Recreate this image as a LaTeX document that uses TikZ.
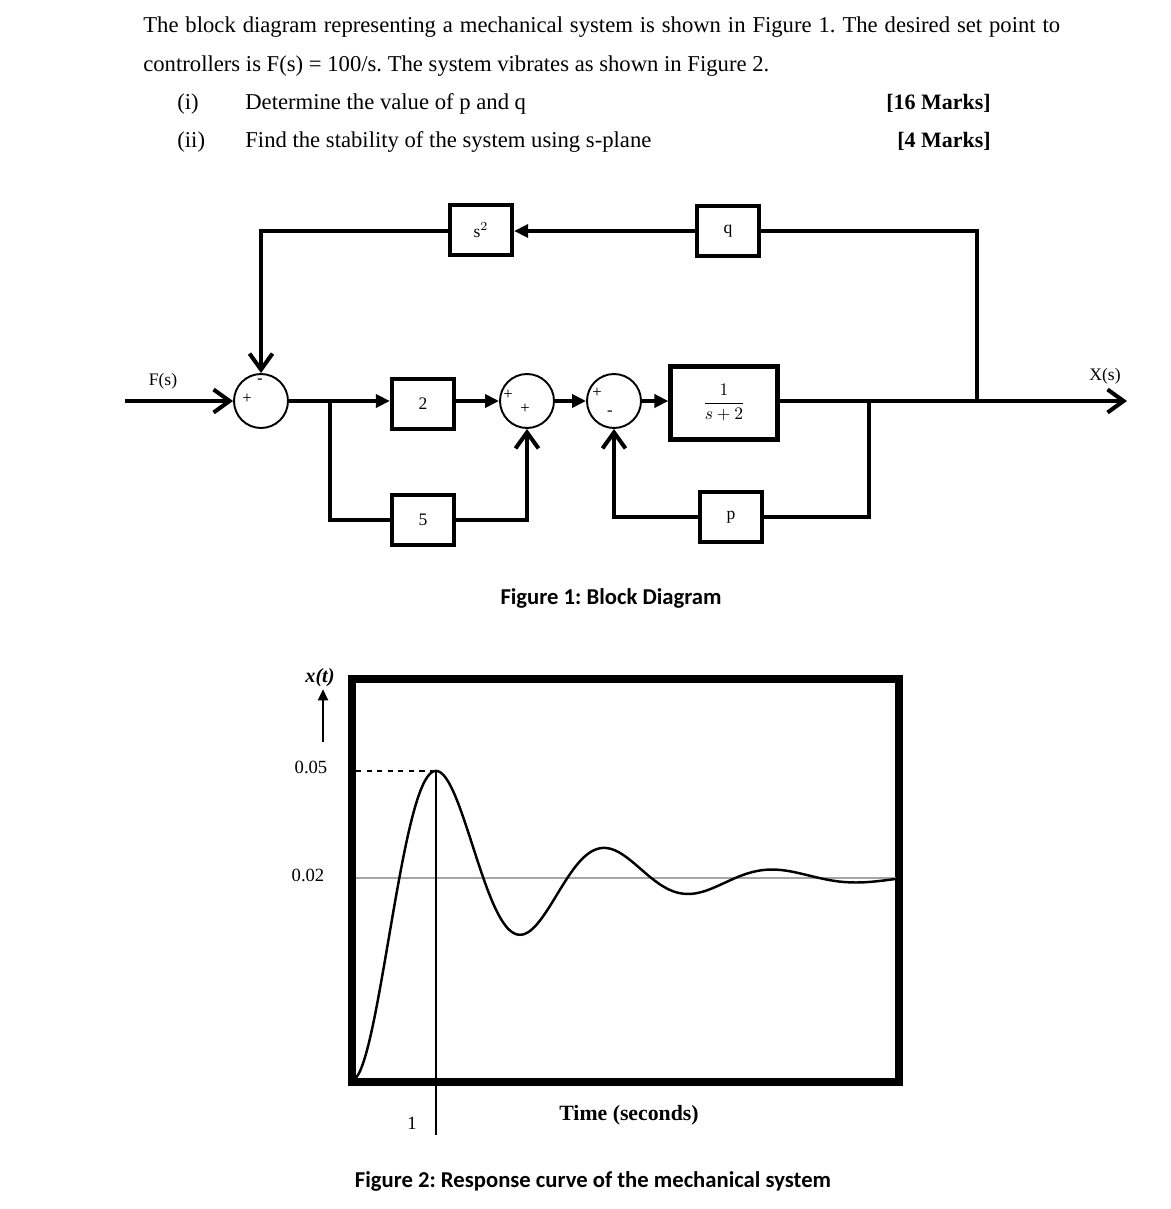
\documentclass[tikz,border=0pt]{standalone}
\usepackage{fontspec}
\setmainfont{Liberation Serif}
\newfontfamily\capfont{Carlito}
\usepackage{amsmath}
\usetikzlibrary{arrows.meta,positioning}
\frenchspacing

\begin{document}
\begin{tikzpicture}[
      x=0.02cm, y=-0.02cm,
      box/.style={rectangle,draw=black,line width=2.4pt,fill=white,align=center,minimum width=1.24cm,minimum height=1.0cm,inner sep=0pt,font=\fontsize{10}{12}\selectfont},
      sumnode/.style={circle,draw=black,line width=1.1pt,minimum size=1.08cm,inner sep=0pt},
      sign/.style={inner sep=0pt,font=\fontsize{9.5}{10}\selectfont},
      wire/.style={line width=2.3pt},
      arrow/.style={wire,-{Triangle[length=2.8mm,width=2.6mm]}},
      openarrow/.style={wire,-{Straight Barb[length=3.2mm,width=4.6mm]}},
      txt/.style={anchor=base west,inner sep=0pt,font=\fontsize{12.9}{15}\selectfont},
      marks/.style={anchor=base east,inner sep=0pt,font=\bfseries\fontsize{12.5}{15}\selectfont},
      caption/.style={inner sep=0pt,font=\capfont\bfseries\fontsize{12.9}{15}\selectfont},
      ticklabel/.style={inner sep=0pt,font=\fontsize{10.6}{13}\selectfont}
    ]
    \useasboundingbox (0,0) rectangle (1170,1209);

    % question text
    \node[txt] (line1) at (143,33) {\makebox[18.34cm][s]{The block diagram representing a mechanical system is shown in Figure 1. The desired set point to}};
    \node[txt] (line2) at (143,72) {controllers is F(s) = 100/s. The system vibrates as shown in Figure 2.};
    \node[txt] (numi) at (177,110) {(i)};
    \node[txt] (taski) at (245,110) {Determine the value of p and q};
    \node[marks] (marki) at (991,110) {[16 Marks]};
    \node[txt] (numii) at (177,148) {(ii)};
    \node[txt] (taskii) at (245,148) {Find the stability of the system using s-plane};
    \node[marks] (markii) at (991,148) {[4 Marks]};

    % block diagram
    \node[sumnode] (sum1) at (261,401) {};
    \node[sumnode] (sum2) at (527,401) {};
    \node[sumnode] (sum3) at (614,401) {};
    \node[box] (two) at (423,404) {2};
    \node[box] (five) at (423,520) {5};
    \node[box,minimum width=2.14cm,minimum height=1.46cm] (plant) at (724,403) {$\dfrac{1}{s+2}$};
    \node[box] (pblk) at (731,517) {p};
    \node[box] (qblk) at (728,231) {q};
    \node[box] (sq) at (481,230) {s$^{2}$};

    \node[sign] at ([shift={(-1,-20)}]sum1.center) {-};
    \node[sign] at ([shift={(-14,-2)}]sum1.center) {+};
    \node[sign] at ([shift={(-19,-6)}]sum2.center) {+};
    \node[sign] at ([shift={(-2,8)}]sum2.center) {+};
    \node[sign] at ([shift={(-17,-8)}]sum3.center) {+};
    \node[sign] at ([shift={(-4,12)}]sum3.center) {-};

    \node[anchor=base,inner sep=0pt,font=\fontsize{10}{12}\selectfont] (fin) at (163,385) {F(s)};
    \node[anchor=base,inner sep=0pt,font=\fontsize{10}{12}\selectfont] (xout) at (1105,380) {X(s)};

    \coordinate (src) at (125,401);
    \coordinate (dst) at (1127,401);
    \coordinate (br1) at (330,401);
    \coordinate (tapp) at (869,401);
    \coordinate (tapq) at (977,401);

    \draw[openarrow] (src) -- (sum1.west);
    \draw[arrow] (sum1.east) -- (two.west |- sum1.east);
    \draw[wire] (br1) |- (five.west);
    \draw[arrow] (two.east |- sum2.west) -- (sum2.west);
    \draw[openarrow] (five.east) -| (sum2.south);
    \draw[arrow] (sum2.east) -- (sum3.west);
    \draw[arrow] (sum3.east) -- (plant.west |- sum3.east);
    \draw[openarrow] (plant.east |- sum3.east) -- (dst);
    \draw[wire] (tapp) |- (pblk.east);
    \draw[openarrow] (pblk.west) -| (sum3.south);
    \draw[wire] (tapq) |- (qblk.east);
    \draw[arrow] (qblk.west) -- (sq.east |- qblk.west);
    \draw[openarrow] (sq.west |- qblk.west) -| (sum1.north);

    \node[caption] (cap1) at (611,598) {Figure 1: Block Diagram};

    % response curve
    \draw[line width=4.5pt] (352,679) rectangle (899,1082);
    \draw[gray!70,line width=0.8pt] (356,878) -- (896,878);
    \draw[line width=1.4pt] plot[domain=0:544,samples=260,smooth]
      ({352+\x},{1080-202*(1-exp(-0.00756*\x)*(cos(\x/84*180)+0.202*sin(\x/84*180)))});
    \coordinate (peak) at (436,771);
    \coordinate (tick1) at (436,1135);
    \coordinate (dashstart) at (356,771);
    \draw[dashed,line width=1.1pt] (dashstart) -- (peak);
    \draw[line width=1.2pt] (peak) -- (tick1);

    \node[inner sep=1pt,font=\bfseries\itshape\fontsize{11.5}{13}\selectfont] (xt) at (320,678) {x(t)};
    \coordinate (xtail) at (323,742);
    \draw[line width=1.1pt,-{Triangle[length=2.2mm,width=2mm]}] (xtail) -- (xtail |- xt.south);
    \node[ticklabel] (y05) at (311,767) {0.05};
    \node[ticklabel] (y02) at (308,875) {0.02};
    \node[ticklabel] (t1) at (412,1123) {1};
    \node[inner sep=0pt,font=\bfseries\fontsize{12.4}{14}\selectfont] (tname) at (629,1115) {Time (seconds)};

    \node[caption] (cap2) at (593,1181) {Figure 2: Response curve of the mechanical system};
  \end{tikzpicture}
\end{document}
